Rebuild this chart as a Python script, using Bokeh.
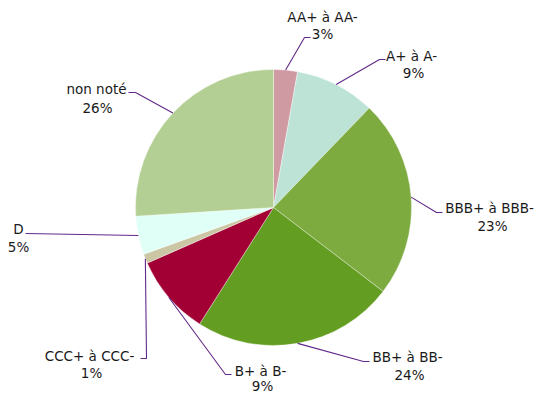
import math
from bokeh.plotting import figure
from bokeh.models import Range1d, ColumnDataSource
from bokeh.embed import file_html
from bokeh.resources import INLINE
from bokeh.core.properties import value

# ---- data ----
categories = ["AA+ à AA-", "A+ à A-", "BBB+ à BBB-", "BB+ à BB-",
              "B+ à B-", "CCC+ à CCC-", "D", "non noté"]
shares = [2.8, 9.4, 23.2, 23.6, 9.4, 1.1, 4.5, 26.0]
pct_labels = ["3%", "9%", "23%", "24%", "9%", "1%", "5%", "26%"]
colors = ["#d09aa3", "#bde3d7", "#7eab40", "#639e22",
          "#a20035", "#cbc6a4", "#e0fff7", "#b3cf93"]

# ---- layout (image pixel coordinates, figure drawn at image origin) ----
W, H = 534, 395
CX, CY_IMG, R = 273, 207, 138
name_pos = [(322, 16), (411, 55), (489, 207), (407, 356),
            (260, 370), (89, 355), (18, 228), (96, 88)]
pct_pos = [(322, 33), (413, 72), (492, 225), (409, 374),
           (262, 385), (91, 372), (18, 246), (97, 107)]
elbows = [(304, 37), (379, 59), (436, 212), (363, 361),
          (225, 374), (146, 358), (25, 233), (135, 92)]
ends = [(310, 37), (385, 59), (442, 212), (369, 361),
        (231, 374), (140, 358), (25, 233), (128, 92)]


def fy(y_img):
    return H - y_img


p = figure(width=W, height=H, output_backend="svg", toolbar_location=None,
           x_range=Range1d(0, W), y_range=Range1d(0, H),
           min_border=0, outline_line_color=None)
p.axis.visible = False
p.grid.visible = False
p.background_fill_color = "white"
p.border_fill_color = "white"

total = sum(shares)
cy = fy(CY_IMG)
starts, finishes, mids = [], [], []
cum = 0.0
for s in shares:
    a0 = cum / total
    cum += s
    a1 = cum / total
    starts.append(math.pi / 2 - 2 * math.pi * a0)
    finishes.append(math.pi / 2 - 2 * math.pi * a1)
    mids.append(math.pi / 2 - 2 * math.pi * (a0 + a1) / 2)

src = ColumnDataSource(dict(start=starts, end=finishes, color=colors, cat=categories))
p.wedge(x=CX, y=cy, radius=R, start_angle="start", end_angle="end",
        direction="clock", fill_color="color", line_color="white",
        line_width=0.6, line_alpha=0.6, source=src)

# leader lines
xs, ys = [], []
for i, m in enumerate(mids):
    sx = CX + R * math.cos(m)
    sy = cy + R * math.sin(m)
    ex, ey = elbows[i]
    tx, ty = ends[i]
    xs.append([sx, ex, tx])
    ys.append([sy, fy(ey), fy(ty)])
p.multi_line(xs=xs, ys=ys, line_color="#62288a", line_width=1.1)

font = value("DejaVu Sans")
p.text(x=[q[0] for q in name_pos], y=[fy(q[1]) for q in name_pos], text=categories,
       text_font=font, text_font_size="13.5px", text_color="#1a1a1a",
       text_align="center", text_baseline="middle")
p.text(x=[q[0] for q in pct_pos], y=[fy(q[1]) for q in pct_pos], text=pct_labels,
       text_font=font, text_font_size="13.5px", text_color="#1a1a1a",
       text_align="center", text_baseline="middle")

open("out.html", "w").write(file_html(p, INLINE))
